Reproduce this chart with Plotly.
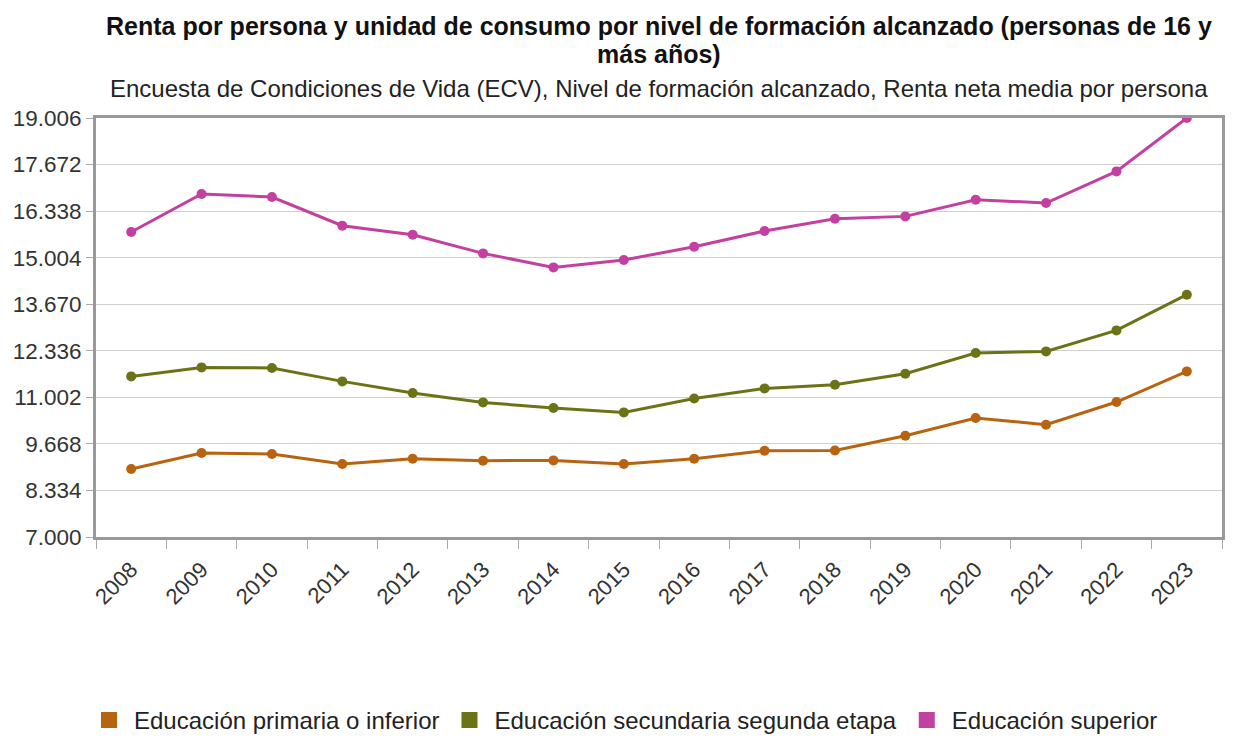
import plotly.graph_objects as go

years = [str(y) for y in range(2008, 2024)]
primaria = [8948, 9407, 9378, 9092, 9244, 9186, 9195, 9092, 9244, 9473, 9481, 9903, 10410, 10218, 10868, 11745]
secundaria = [11602, 11860, 11843, 11459, 11126, 10857, 10696, 10570, 10971, 11258, 11364, 11679, 12272, 12318, 12920, 13943]
superior = [15739, 16828, 16742, 15920, 15662, 15126, 14725, 14937, 15318, 15768, 16120, 16187, 16665, 16570, 17476, 19006]
names = ["Educación primaria o inferior", "Educación secundaria segunda etapa", "Educación superior"]
colors = ["#b8630f", "#6b7316", "#c33fa0"]
series = [primaria, secundaria, superior]
ytick_vals = [7000, 8334, 9668, 11002, 12336, 13670, 15004, 16338, 17672, 19006]
title_lines = ["Renta por persona y unidad de consumo por nivel de formación alcanzado (personas de 16 y",
               "más años)"]
subtitle = "Encuesta de Condiciones de Vida (ECV), Nivel de formación alcanzado, Renta neta media por persona"

fig = go.Figure()
for name, vals, c in zip(names, series, colors):
    fig.add_trace(go.Scatter(x=years, y=vals, mode="lines+markers", name=name,
                             line=dict(color=c, width=3), marker=dict(color=c, size=10),
                             showlegend=False, hoverinfo="x+y"))
for name, c in zip(names, colors):
    fig.add_trace(go.Scatter(x=[None], y=[None], mode="markers", name=name,
                             marker=dict(color=c, size=24, symbol="square")))

font = "Liberation Sans, Arial, sans-serif"
ann = []
for txt, yy in zip(title_lines, [1.219, 1.152]):
    ann.append(dict(text="<b>" + txt + "</b>", xref="paper", yref="paper", x=0.5, xanchor="center",
                    y=yy, yanchor="middle", showarrow=False,
                    font=dict(size=25, color="#111", family=font)))
ann.append(dict(text=subtitle, xref="paper", yref="paper", x=0.5, xanchor="center",
                y=1.07, yanchor="middle", showarrow=False,
                font=dict(size=24, color="#222", family=font)))

fig.update_layout(
    width=1247, height=738,
    margin=dict(l=96, r=25, t=118, b=201, autoexpand=False),
    paper_bgcolor="white", plot_bgcolor="white",
    separators=",.",
    font=dict(family=font, size=22, color="#333"),
    annotations=ann,
    xaxis=dict(type="category", range=[-0.5, 15.5], tickson="boundaries", ticks="outside", ticklen=9,
               tickcolor="#aaa", tickangle=-45, showgrid=False, automargin=False,
               ticklabelstandoff=8,
               showline=True, linecolor="#999", linewidth=3, mirror=True,
               tickfont=dict(size=22, color="#333")),
    yaxis=dict(range=[7000, 19006], tickvals=ytick_vals, tickformat=",d", automargin=False,
               ticks="outside", ticklen=7, tickcolor="#aaa",
               showgrid=True, gridcolor="#d0d0d0", gridwidth=1,
               showline=True, linecolor="#999", linewidth=3, mirror=True,
               zeroline=False, tickfont=dict(size=22.5, color="#333")),
    legend=dict(orientation="h", xref="container", x=0.5, xanchor="center",
                yref="container", y=0.024, yanchor="middle",
                font=dict(size=24, color="#222"), itemsizing="trace",
                itemwidth=40, tracegroupgap=0),
)
fig.write_html("out.html")
